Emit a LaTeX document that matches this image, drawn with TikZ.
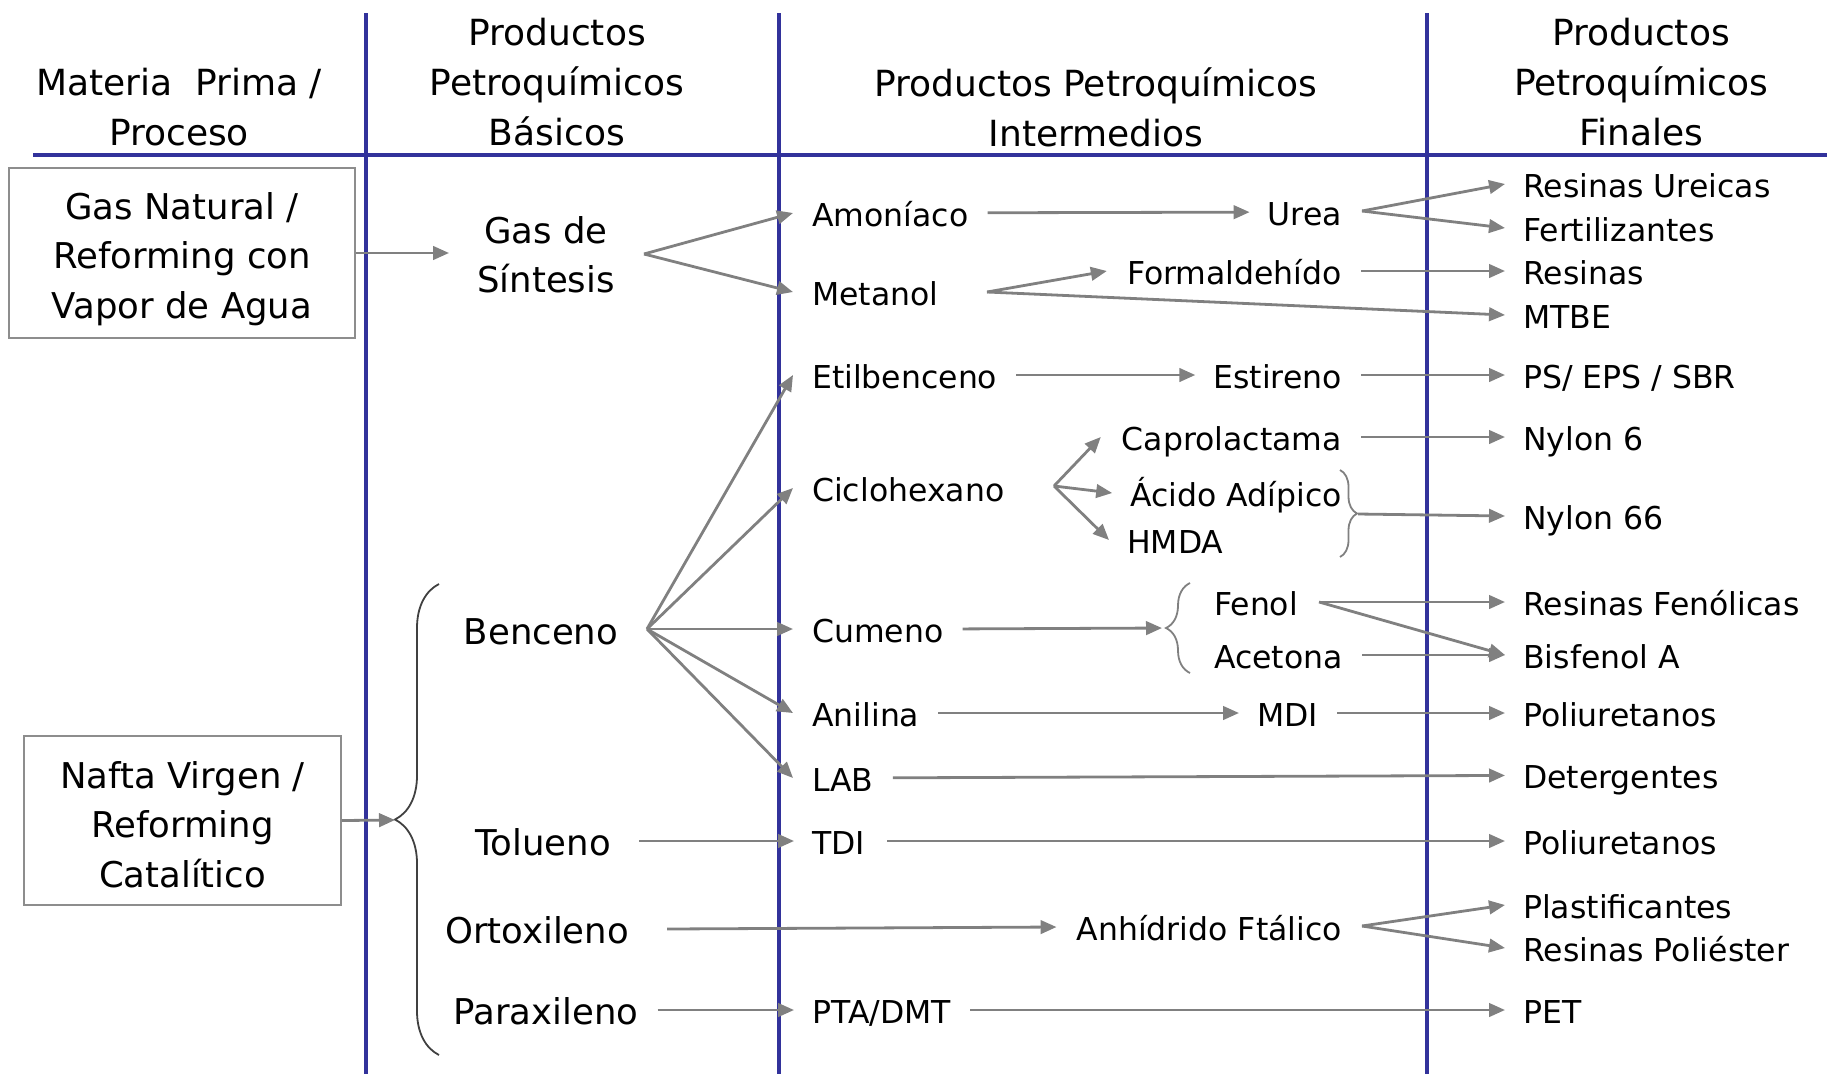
\documentclass[tikz,border=0pt]{standalone}
\usepackage{fontspec}
\setmainfont{DejaVu Sans}
\usetikzlibrary{arrows.meta,decorations.pathreplacing}

\definecolor{azul}{RGB}{50,50,155}
\definecolor{gris}{RGB}{128,128,128}

\tikzset{
  txt/.style={inner sep=0pt, font=\fontsize{31.5}{40}\selectfont, text height=27pt, text depth=0.6pt},
  basico/.style={inner sep=0pt, font=\fontsize{35.5}{49.5}\selectfont, text height=30pt, text depth=1.5pt},
  grande/.style={inner sep=0pt, font=\fontsize{35.5}{49.5}\selectfont, align=center},
  titulo/.style={inner sep=0pt, font=\fontsize{36}{50}\selectfont, align=center},
  caja/.style={draw=gris!90, line width=1.8pt, inner sep=0pt, align=center,
    font=\fontsize{35.5}{49.5}\selectfont},
  flecha/.style={draw=gris, line width=2.8pt, -{Triangle[length=16pt,width=13.5pt]}},
  recta/.style={flecha, shorten <=19pt, shorten >=18pt},
  llave/.style={draw=gris, line width=1.8pt, decorate},
  columna/.style={draw=azul, line width=4.5pt}
}

\begin{document}
\begin{tikzpicture}[x=1pt,y=-1pt]
\useasboundingbox (0,0) rectangle (1827,1074);

% lineas de la tabla
\draw[columna] (33,155) -- (1827,155);
\foreach \cx in {366,779,1427}
  \draw[columna] (\cx,13) -- (\cx,1074);

% encabezados
\node[titulo] (h1) at (179,107) {Materia\ \ Prima /\\Proceso};
\node[titulo] (h2) at (557,82) {Productos\\Petroquímicos\\Básicos};
\node[titulo] (h3) at (1096,107) {Productos Petroquímicos\\Intermedios};
\node[titulo] (h4) at (1641,82) {Productos\\Petroquímicos\\Finales};

% materia prima (el \rule baja el texto dentro de la caja)
\node[caja, minimum width=346pt, minimum height=170pt] (gasnat) at (182,253)
  {Gas Natural /\rule{0pt}{39pt}\\Reforming con\\Vapor de Agua};
\node[caja, minimum width=317pt, minimum height=169pt] (nafta) at (182.5,820.5)
  {Nafta Virgen /\rule{0pt}{34.5pt}\\Reforming\\Catalítico};

% basicos
\node[grande] (gas) at (546,255) {Gas de\\Síntesis};
\node[basico] (benc) at (541,630) {Benceno};
\node[basico] (tolu) at (543,841) {Tolueno};
\node[basico] (orto) at (537,929) {Ortoxileno};
\node[basico] (para) at (546,1010) {Paraxileno};

% intermedios
\node[txt, anchor=west] (amon) at (812,213) {Amoníaco};
\node[txt, anchor=west] (meta) at (812,292) {Metanol};
\node[txt, anchor=west] (etil) at (812,375) {Etilbenceno};
\node[txt, anchor=west] (ciclo) at (812,488) {Ciclohexano};
\node[txt, anchor=west] (cume) at (812,629) {Cumeno};
\node[txt, anchor=west] (anil) at (812,713) {Anilina};
\node[txt, anchor=west] (lab) at (812,778) {LAB};
\node[txt, anchor=west] (tdi) at (812,841) {TDI};
\node[txt, anchor=west] (pta) at (812,1010) {PTA/DMT};

\node[txt, anchor=east] (urea) at (1342,212) {Urea};
\node[txt, anchor=east] (form) at (1342,271) {Formaldehído};
\node[txt, anchor=east] (esti) at (1342,375) {Estireno};
\node[txt, anchor=east] (capro) at (1342,437) {Caprolactama};
\node[txt, anchor=east] (acid) at (1342,493) {Ácido Adípico};
\node[txt, anchor=west] (hmda) at (1127,540) {HMDA};
\node[txt, anchor=west] (feno) at (1214,602) {Fenol};
\node[txt, anchor=west] (acet) at (1214,655) {Acetona};
\node[txt, anchor=west] (mdi) at (1257,713) {MDI};
\node[txt, anchor=east] (anh) at (1342,927) {Anhídrido Ftálico};

% finales
\foreach \nom/\yy/\tx in {rure/184/Resinas Ureicas, fert/228/Fertilizantes,
    resi/271/Resinas, mtbe/315/MTBE, ps/375/{PS/ EPS / SBR}, ny6/437/Nylon 6,
    ny66/516/Nylon 66, rfen/602/Resinas Fenólicas, bisf/655/Bisfenol A,
    pol1/713/Poliuretanos, dete/775/Detergentes, pol2/841/Poliuretanos,
    plas/905/Plastificantes, rpol/948/Resinas Poliéster, pet/1010/PET}
  \node[txt, anchor=west] (\nom) at (1523,\yy) {\tx};

% llaves
\draw[llave, draw=black!75, decoration={brace,amplitude=44pt}] (439,1055) -- (439,584);
\coordinate (llnafta) at (395,820);
\draw[llave, decoration={brace,amplitude=24pt}] (1190,673) -- (1190,583);
\coordinate (llcume) at (1166,628);
\draw[llave, decoration={brace,amplitude=17pt}] (1340,470) -- (1340,557);
\coordinate (llnylon) at (1358,514);

% puntos de abanico
\coordinate (fgas) at (644,254);
\coordinate (fbenc) at (647,629);
\coordinate (fmeta) at (987,292);
\coordinate (fciclo) at (1054,486);
\coordinate (furea) at (1362,211);
\coordinate (ffeno) at (1319,602);
\coordinate (fanh) at (1362,926);

% flechas
\draw[flecha] (gasnat.east) -- ([xshift=-28pt]gas.west |- gasnat.east);
\draw[flecha] (nafta.east) -- (llnafta);
\draw[flecha] (fgas) -- ([xshift=-19pt]amon.west);
\draw[flecha] (fgas) -- ([xshift=-19pt]meta.west);
\foreach \dest in {etil,ciclo,cume,anil,lab}
  \draw[flecha] (fbenc) -- ([xshift=-19pt]\dest.west);
\draw[recta, shorten <=28pt] (tolu) -- (tdi);
\draw[flecha] ([xshift=38pt]orto.east) -- ([xshift=-20pt]anh.west);
\draw[recta] (para) -- (pta);

\draw[recta] (amon) -- (urea);
\draw[flecha] (fmeta) -- ([xshift=-20pt]form.west);
\draw[flecha] (fmeta) -- ([xshift=-18pt]mtbe.west);
\draw[recta] (etil) -- (esti);
\draw[flecha] (fciclo) -- ([xshift=-21pt]capro.west);
\draw[flecha] (fciclo) -- ([xshift=-18pt]acid.west);
\draw[flecha] (fciclo) -- ([xshift=-18pt]hmda.west);
\draw[flecha, shorten <=19pt, shorten >=4pt] (cume.east) -- (llcume);
\draw[recta] (anil) -- (mdi);
\draw[recta] (lab) -- (dete);
\draw[recta, shorten <=22pt] (tdi) -- (pol2);
\draw[recta] (pta) -- (pet);

\draw[flecha] (furea) -- ([xshift=-18pt]rure.west);
\draw[flecha] (furea) -- ([xshift=-18pt]fert.west);
\draw[recta] (form) -- (resi);
\draw[recta] (esti) -- (ps);
\draw[recta] (capro) -- (ny6);
\draw[flecha] (llnylon) -- ([xshift=-18pt]ny66.west);
\draw[flecha] (ffeno) -- ([xshift=-18pt]rfen.west);
\draw[flecha] (ffeno) -- ([xshift=-18pt]bisf.west);
\draw[recta] (acet) -- (bisf);
\draw[recta] (mdi) -- (pol1);
\draw[flecha] (fanh) -- ([xshift=-18pt]plas.west);
\draw[flecha] (fanh) -- ([xshift=-18pt]rpol.west);
\end{tikzpicture}
\end{document}
